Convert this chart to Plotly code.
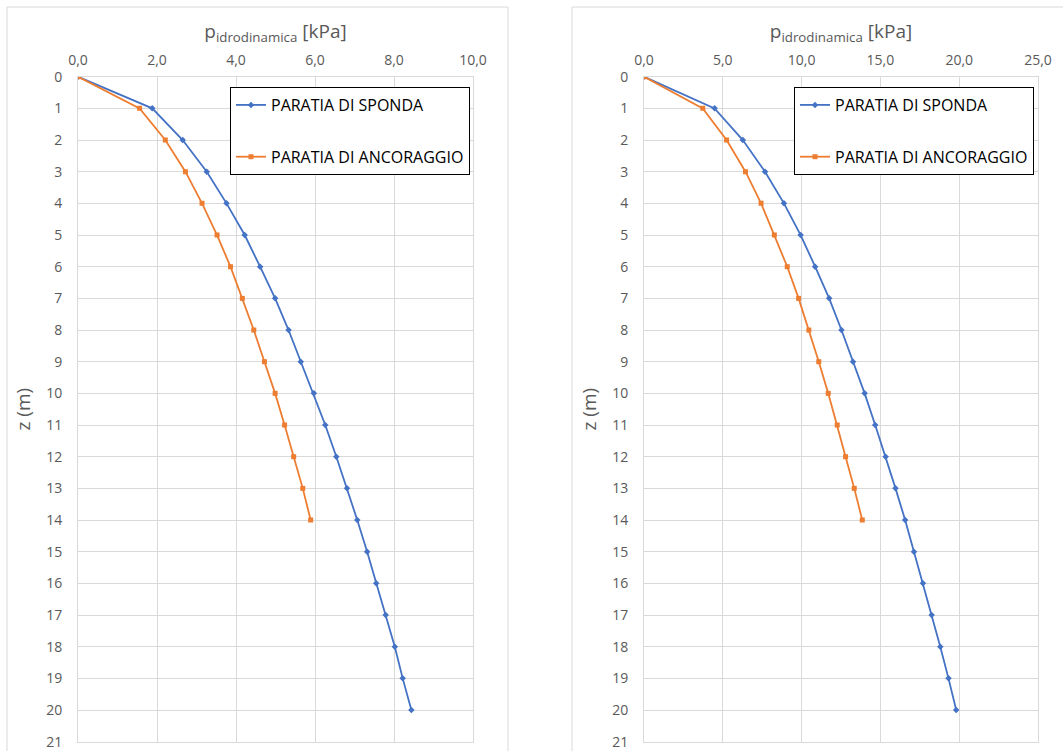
import plotly.graph_objects as go

# depth (m)
z_sponda = list(range(0, 21))
z_ancor = list(range(0, 15))

# Left chart values (kPa)
left_sponda = [0.0, 1.88, 2.65, 3.26, 3.76, 4.22, 4.61, 4.99, 5.33, 5.64,
               5.97, 6.26, 6.54, 6.81, 7.07, 7.32, 7.55, 7.79, 8.02, 8.22, 8.44]
left_ancor = [0.0, 1.56, 2.21, 2.72, 3.14, 3.52, 3.86, 4.16, 4.45, 4.72,
              4.99, 5.23, 5.46, 5.69, 5.89]

# Right chart values (kPa)
right_sponda = [0.0, 4.48, 6.27, 7.68, 8.88, 9.94, 10.86, 11.75, 12.53, 13.26,
                14.0, 14.67, 15.33, 15.96, 16.57, 17.13, 17.70, 18.25, 18.80, 19.32, 19.81]
right_ancor = [0.0, 3.73, 5.24, 6.44, 7.43, 8.27, 9.09, 9.81, 10.46, 11.09,
               11.69, 12.26, 12.79, 13.34, 13.85]

name_sponda = "PARATIA DI SPONDA"
name_ancor = "PARATIA DI ANCORAGGIO"
xtitle = "p<sub>idrodinamica</sub> [kPa]"
ytitle = "z (m)"

BLUE = "#4472C4"
ORANGE = "#ED7D31"
GRID = "#D9D9D9"
TICK = "#595959"
FONT = "Open Sans"

W, H = 1063, 751

def px(x):
    return x / W

def py(y):
    return 1 - y / H

fig = go.Figure()

fig.add_trace(go.Scatter(x=left_sponda, y=z_sponda, name=name_sponda, mode="lines+markers",
                         line=dict(color=BLUE, width=1.8),
                         marker=dict(symbol="diamond", size=5, color=BLUE),
                         xaxis="x", yaxis="y", legend="legend", legendgroup="a"))
fig.add_trace(go.Scatter(x=left_ancor, y=z_ancor, name=name_ancor, mode="lines+markers",
                         line=dict(color=ORANGE, width=1.8),
                         marker=dict(symbol="square", size=5, color=ORANGE),
                         xaxis="x", yaxis="y", legend="legend", legendgroup="b"))
fig.add_trace(go.Scatter(x=right_sponda, y=z_sponda, name=name_sponda, mode="lines+markers",
                         line=dict(color=BLUE, width=1.8),
                         marker=dict(symbol="diamond", size=5, color=BLUE),
                         xaxis="x2", yaxis="y2", legend="legend2", legendgroup="c"))
fig.add_trace(go.Scatter(x=right_ancor, y=z_ancor, name=name_ancor, mode="lines+markers",
                         line=dict(color=ORANGE, width=1.8),
                         marker=dict(symbol="square", size=5, color=ORANGE),
                         xaxis="x2", yaxis="y2", legend="legend2", legendgroup="d"))

ydom = [py(741.7), py(76.7)]

def xaxis(dom, rng, dt, anchor):
    return dict(domain=dom, range=rng, dtick=dt, tick0=0, side="top", anchor=anchor,
                automargin=False,
                tickformat=".1f", showgrid=True, gridcolor=GRID, gridwidth=1,
                showline=True, linecolor=GRID, linewidth=1, mirror=True,
                zeroline=False, ticks="", ticklabelstandoff=5,
                tickfont=dict(family=FONT, size=14, color=TICK),
                title=dict(text=xtitle, standoff=6,
                           font=dict(family=FONT, size=19, color=TICK)))

def yaxis(anchor):
    return dict(domain=ydom, range=[21, 0], dtick=1, tick0=0, anchor=anchor,
                automargin=False,
                showgrid=True, gridcolor=GRID, gridwidth=1,
                showline=True, linecolor=GRID, linewidth=1, mirror=True,
                zeroline=False, ticks="", ticklabelstandoff=12,
                tickfont=dict(family=FONT, size=14, color=TICK),
                title=dict(text=ytitle, standoff=10,
                           font=dict(family=FONT, size=19, color=TICK)))

def legend(x, y):
    return dict(x=x, y=y, xanchor="left", yanchor="top", bgcolor="white",
                bordercolor="#000000", borderwidth=1, tracegroupgap=28,
                font=dict(family=FONT, size=16, color="#000000"),
                itemwidth=30)

fig.update_layout(
    width=W, height=H, autosize=False,
    margin=dict(l=0, r=0, t=0, b=0),
    paper_bgcolor="white", plot_bgcolor="white",
    separators=",.",
    showlegend=True,
    xaxis=xaxis([px(78), px(473)], [0, 10], 2, "y"),
    yaxis=yaxis("x"),
    xaxis2=xaxis([px(644), px(1038)], [0, 25], 5, "y2"),
    yaxis2=yaxis("x2"),
    legend=legend(px(230), py(87)),
    legend2=legend(px(794), py(87)),
    shapes=[
        dict(type="rect", xref="paper", yref="paper", x0=px(7), x1=px(508),
             y0=-0.02, y1=py(7), line=dict(color=GRID, width=1), layer="below"),
        dict(type="rect", xref="paper", yref="paper", x0=px(572), x1=1.02,
             y0=-0.02, y1=py(7), line=dict(color=GRID, width=1), layer="below"),
    ],
)

fig.write_html("out.html")
